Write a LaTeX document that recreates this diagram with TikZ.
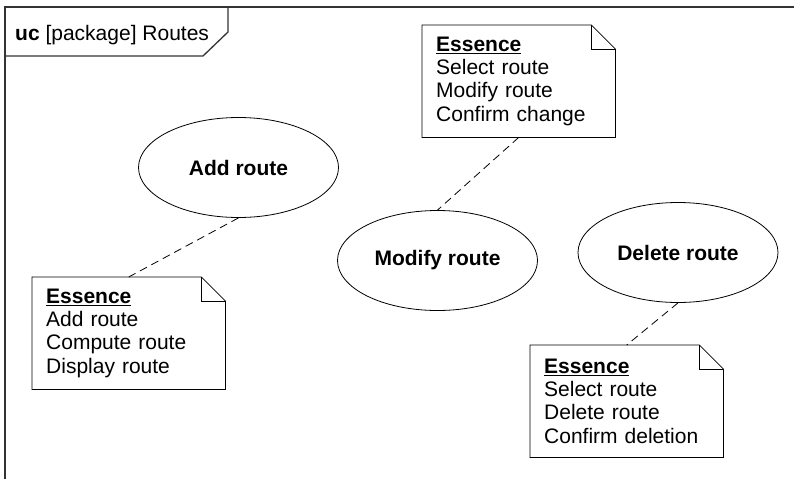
\documentclass[tikz,border=0pt]{standalone}
\usepackage{fontspec}
\setmainfont{Liberation Sans}
\usetikzlibrary{shapes.geometric, positioning}

% note with folded corner, drawn round a named node
\newcommand{\notefold}[1]{%
  \draw [noteline] (#1.north west) -- ([xshift=-24pt]#1.north east) -- ([yshift=-24pt]#1.north east)
        -- (#1.south east) -- (#1.south west) -- cycle;
  \draw [noteline] ([xshift=-24pt]#1.north east) |- ([yshift=-24pt]#1.north east);}

\begin{document}
\begin{tikzpicture}[x=1pt, y=-1pt, font=\fontsize{21}{23.3}\selectfont]
    \tikzstyle{usecase} = [ellipse, draw, line width=0.8pt, minimum width=200pt, minimum height=100pt, inner sep=0pt, font=\fontsize{21}{23.3}\selectfont\bfseries]
    \tikzstyle{note} = [rectangle, minimum width=193pt, minimum height=112pt, text width=165pt, inner xsep=14pt, align=left]
    \tikzstyle{noteline} = [line width=0.8pt]
    \tikzstyle{anchorline} = [line width=0.8pt, dash pattern=on 8pt off 5pt]
    \tikzstyle{frame} = [line width=1.3pt, black!80]

    \useasboundingbox (0,0) rectangle (794,479);

    % Frame
    \draw [frame] (794,7) -- (5,7) -- (5,479);
    \node [anchor=base west, inner sep=0pt] (frametitle) at (15,40.5) {\textbf{uc} [package] Routes};
    \draw [frame] (5,56) -- (203,56) -- (228,32) -- (228,7);

    % Use cases
    \node [usecase] (addroute) at (238.5,167.5) {\raisebox{-2pt}{Add route}};
    \node [usecase] (modifyroute) at (437.5,260.5) {\raisebox{-2pt}{Modify route}};
    \node [usecase] (deleteroute) at (678,252.5) {\raisebox{-2pt}{Delete route}};

    % Notes
    \node [note, anchor=north west] (modifynote) at (422,25) {\underline{\textbf{Essence}}\\Select route\\Modify route\\Confirm change};
    \node [note, anchor=north west] (addnote) at (32,277) {\underline{\textbf{Essence}}\\Add route\\Compute route\\Display route};
    \node [note, anchor=north west] (deletenote) at (530,345) {\underline{\textbf{Essence}}\\Select route\\Delete route\\Confirm deletion};
    \notefold{modifynote}
    \notefold{addnote}
    \notefold{deletenote}

    % Connections
    \draw [anchorline] (addroute.south) -- (addnote.north);
    \draw [anchorline] (modifynote.south) -- (modifyroute.north);
    \draw [anchorline] (deleteroute.south) -- (deletenote.north);
\end{tikzpicture}
\end{document}
